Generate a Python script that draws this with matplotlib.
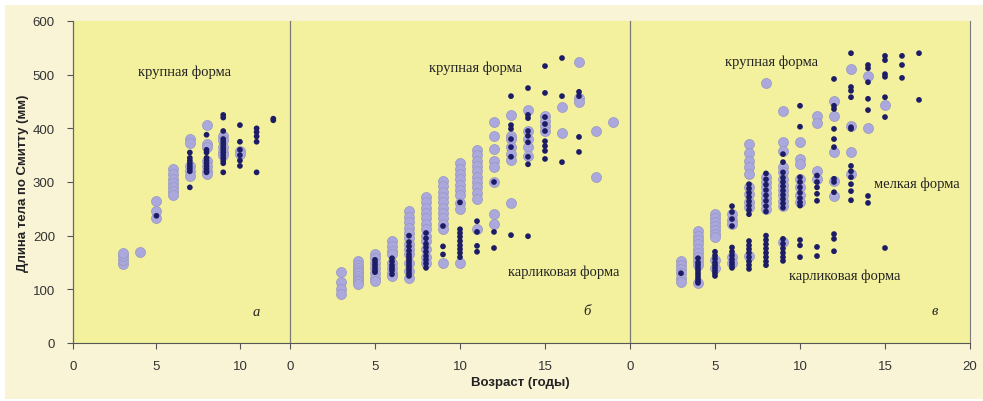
import matplotlib
matplotlib.use("Agg")
import matplotlib.pyplot as plt
from matplotlib.patches import Rectangle

# Body length (mm, Smitt) by age (years); light = first sample, dark = second sample
a_light = {
    3: [147, 155, 162, 168],
    4: [170],
    5: [265, 246, 233],
    6: [324, 315, 305, 298, 290, 283, 276],
    7: [381, 372, 330, 320, 312],
    8: [407, 370, 365, 340, 330, 320, 315],
    9: [385, 378, 365, 355, 350],
    10: [358, 352],
}
a_dark = {
    5: [237],
    7: [355, 345, 340, 335, 330, 325, 320, 290],
    8: [388, 360, 355, 345, 340, 335, 330, 325, 320, 318],
    9: [425, 420, 395, 380, 375, 370, 365, 360, 355, 350, 345, 340, 335, 318],
    10: [406, 375, 360, 350, 340, 330],
    11: [400, 393, 385, 375, 318],
    12: [418, 415],
}

b_light = {
    3: [132, 113, 100, 91],
    4: [152, 145, 140, 135, 130, 125, 120, 115, 110],
    5: [165, 158, 150, 140, 130, 122, 116],
    6: [190, 180, 172, 165, 150, 140, 130, 125],
    7: [246, 235, 225, 215, 205, 195, 185, 175, 165, 150, 135, 122],
    8: [272, 262, 252, 242, 232, 222, 212, 200, 190, 175, 160, 150],
    9: [302, 292, 282, 272, 262, 252, 242, 232, 222, 212, 150],
    10: [335, 325, 315, 305, 295, 285, 275, 260, 250, 150],
    11: [360, 350, 340, 330, 320, 310, 300, 290, 280, 268, 212],
    12: [412, 386, 361, 339, 328, 300, 240, 222],
    13: [425, 386, 380, 365, 352, 341, 261],
    14: [434, 395, 380, 365, 348],
    15: [423, 414, 404, 395],
    16: [440, 391],
    17: [524, 456, 449],
    18: [395, 309],
    19: [412],
}
b_dark = {
    5: [155, 150, 145, 140, 135, 132],
    6: [158, 152, 145, 140, 135, 128],
    7: [200, 188, 180, 172, 165, 160, 155, 150, 145, 140, 135, 130, 125],
    8: [205, 195, 185, 178, 170, 162, 155, 148, 140],
    9: [218, 180, 165],
    10: [262, 212, 205, 198, 190, 182, 175, 168, 160],
    11: [227, 207, 181, 170],
    12: [300, 207, 177],
    13: [460, 406, 399, 380, 365, 347, 201],
    14: [475, 425, 419, 395, 386, 374, 347, 333, 199],
    15: [516, 466, 421, 408, 395, 376, 367, 358, 343],
    16: [531, 460, 337],
    17: [468, 460, 384, 356],
}

c_light = {
    3: [153, 145, 137, 130, 122, 114],
    4: [208, 200, 192, 184, 176, 168, 160, 152, 145, 112],
    5: [240, 232, 225, 218, 211, 204, 197, 155, 140],
    6: [240, 230, 222, 160, 150],
    7: [371, 354, 339, 328, 315, 290, 278, 263, 253, 162],
    8: [484, 310, 300, 290, 280, 270, 260, 250],
    9: [432, 374, 358, 328, 318, 305, 295, 285, 275, 265, 255, 188],
    10: [374, 343, 333, 305, 290, 275, 262],
    11: [423, 410, 321, 306],
    12: [451, 423, 356, 302, 274],
    13: [510, 404, 356, 315],
    14: [498, 401],
    15: [443],
}
c_dark = {
    3: [130],
    4: [158, 150, 145, 140, 135, 130, 125, 120, 115, 112],
    5: [170, 163, 157, 150, 145, 140, 135, 130, 125],
    6: [255, 244, 231, 218, 178, 170, 163, 156, 150, 145, 140],
    7: [296, 288, 280, 272, 264, 256, 248, 240,
        190, 182, 175, 168, 160, 152, 145, 138],
    8: [316, 305, 295, 285, 275, 265, 255, 245,
        200, 192, 184, 176, 168, 160, 152, 145],
    9: [352, 337, 318, 308, 300, 292, 284, 276, 268, 260, 252,
        194, 185, 176, 168, 160, 153],
    10: [442, 403, 309, 300, 290, 280, 270, 262, 256, 192, 182, 160],
    11: [312, 300, 290, 278, 265, 179, 162],
    12: [492, 442, 436, 399, 380, 365, 306, 300, 281, 203, 194, 171],
    13: [540, 477, 470, 458, 402, 399, 330, 320, 309, 296, 283, 266],
    14: [518, 512, 486, 455, 434, 274, 261],
    15: [535, 527, 501, 496, 458, 421, 177],
    16: [535, 518, 494],
    17: [540, 453],
}

panel_xmax = [13, 20, 20]
panel_xticks = [[0, 5, 10], [0, 5, 10, 15], [0, 5, 10, 15, 20]]
panel_letters = ["а", "б", "в"]
y_ticks = [0, 100, 200, 300, 400, 500, 600]

LIGHT = "#aaa8dc"
LIGHT_EDGE = "#9896c0"
DARK = "#1d1c66"
PLOT_BG = "#f3f19d"
FIG_BG = "#faf4d6"
SANS = ["Liberation Sans", "DejaVu Sans"]
SERIF = ["Liberation Serif", "DejaVu Serif"]


def flatten(groups):
    xs, ys = [], []
    for age, lengths in groups.items():
        xs.extend([age] * len(lengths))
        ys.extend(lengths)
    return xs, ys


fig = plt.figure(figsize=(9.83, 4.02), dpi=100, facecolor="white")
fig.patches.append(Rectangle((0.005, 0.005), 0.995, 0.98, transform=fig.transFigure,
                             facecolor=FIG_BG, edgecolor="none", zorder=-10))

bottom, top = 1 - 344 / 402, 1 - 22 / 402
edges = [73 / 983, 290 / 983, 630 / 983, 970 / 983]
height = top - bottom

series = [(a_light, a_dark), (b_light, b_dark), (c_light, c_dark)]
axes = []
for i, (light, dark) in enumerate(series):
    ax = fig.add_axes([edges[i], bottom, edges[i + 1] - edges[i], height])
    ax.set_facecolor(PLOT_BG)
    lx, ly = flatten(light)
    dx, dy = flatten(dark)
    ax.scatter(lx, ly, s=52, color=LIGHT, edgecolors=LIGHT_EDGE, linewidths=0.5, zorder=2)
    ax.scatter(dx, dy, s=17, color=DARK, edgecolors="none", zorder=3)
    ax.set_xlim(0, panel_xmax[i])
    ax.set_ylim(0, 600)
    ax.set_xticks(panel_xticks[i])
    ax.set_xticklabels([str(t) for t in panel_xticks[i]], family=SANS, fontsize=9.5, color="#333333")
    ax.tick_params(axis="x", direction="out", length=4, width=0.8, color="#555555", pad=8)
    ax.spines["top"].set_visible(False)
    ax.spines["bottom"].set_color("#555555")
    ax.spines["left"].set_color("#666666" if i == 0 else "#7a7a7a")
    ax.spines["left"].set_linewidth(0.9)
    ax.spines["right"].set_visible(i == 2)
    ax.spines["right"].set_color("#7a7a7a")
    if i == 0:
        ax.set_yticks(y_ticks)
        ax.set_yticklabels([str(t) for t in y_ticks], family=SANS, fontsize=9.5, color="#333333")
        ax.tick_params(axis="y", direction="out", length=4, width=0.8, color="#555555", pad=9)
        ax.set_ylabel("Длина тела по Смитту (мм)", family=SANS, fontsize=9.5,
                      fontweight="bold", color="#222222", labelpad=3)
    else:
        ax.set_yticks([])
    axes.append(ax)

ann = dict(family=SERIF, fontsize=10.5, color="#222222", ha="center", va="center", zorder=4)
axes[0].text(6.7, 507, "крупная форма", **ann)
axes[1].text(10.9, 514, "крупная форма", **ann)
axes[1].text(16.1, 134, "карликовая форма", **ann)
axes[2].text(8.35, 525, "крупная форма", **ann)
axes[2].text(16.9, 298, "мелкая форма", **ann)
axes[2].text(12.6, 127, "карликовая форма", **ann)

letter_pos = [(11.0, 58), (17.5, 60), (17.9, 60)]
for ax, letter, (x, y) in zip(axes, panel_letters, letter_pos):
    ax.text(x, y, letter, family=SERIF, fontsize=10.5, style="italic",
            color="#222222", ha="center", va="center", zorder=4)

fig.text(520 / 983, 1 - 383 / 402, "Возраст (годы)", family=SANS, fontsize=9.5,
         fontweight="bold", color="#222222", ha="center", va="center")

fig.savefig("out.png", dpi=100, facecolor=fig.get_facecolor())
